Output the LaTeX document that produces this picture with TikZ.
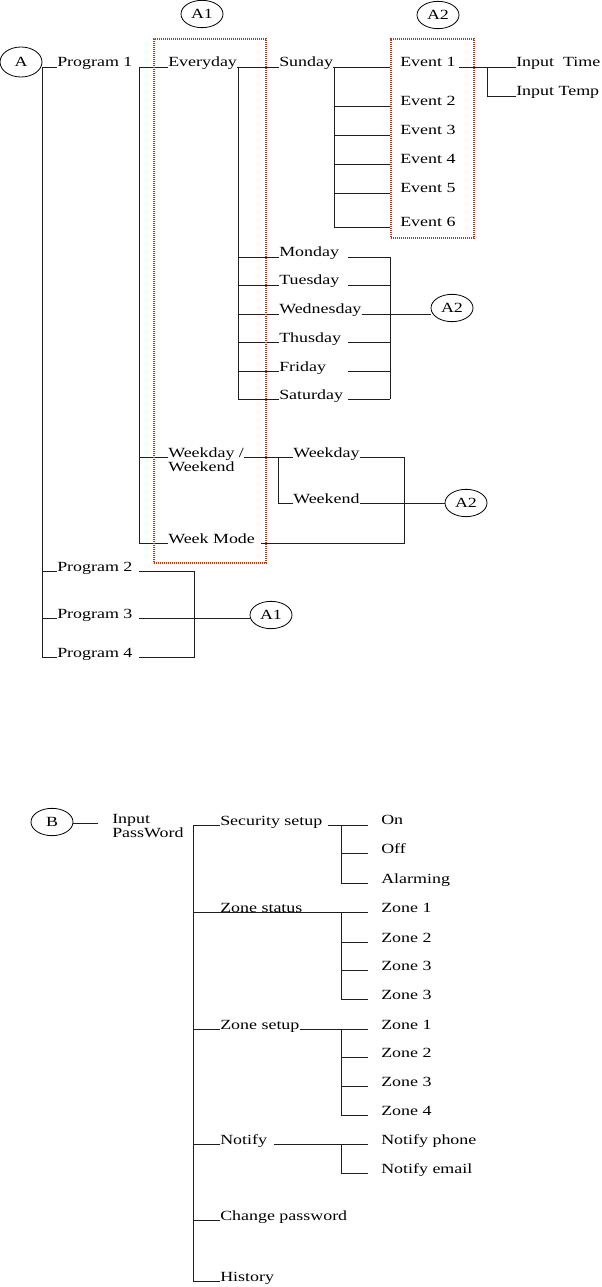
\documentclass[tikz,border=0pt]{standalone}
\usepackage{fontspec}
\setmainfont{Liberation Serif}[FakeStretch=1.28]
\usetikzlibrary{shapes.geometric,calc}
\definecolor{SelRed}{RGB}{176,62,20}
\definecolor{LinkGray}{RGB}{30,30,30}
\newcommand{\twoline}[2]{\vtop{\baselineskip=10.5pt\hbox{#1}\hbox{#2}}}
\tikzset{
  lbl/.style={inner sep=0pt, anchor=base west, font=\fontsize{10.5}{12}\selectfont},
  tag/.style={ellipse, draw, line width=0.6pt, inner sep=0pt,
              minimum width=31.5pt, minimum height=20.5pt,
              font=\fontsize{10.5}{12}\selectfont},
  selbox/.style={draw=SelRed, dash pattern=on 0.9pt off 0.6pt, line width=1.2pt,
                 anchor=north west, inner sep=0pt},
  link/.style={draw=LinkGray, line width=0.65pt},
}

\begin{document}
\begin{tikzpicture}[x=0.75pt, y=-0.75pt]
  \useasboundingbox (0,0) rectangle (602,1287);

  % --- menu A ---
  \node[tag, minimum height=22.5pt] (A) at (21,62) {A};
  \node[tag] (A1t) at (202,14) {A1};
  \node[tag] (A2t) at (438,15) {A2};
  \node[tag] (A2m) at (452,308) {A2};
  \node[tag] (A2l) at (466,503) {A2};
  \node[tag] (A1l) at (271,615) {A1};

  \node[lbl] (prog1) at (57,67) {Program 1};
  \node[lbl] (prog2) at (57,571) {Program 2};
  \node[lbl] (prog3) at (57,618) {Program 3};
  \node[lbl] (prog4) at (57,657) {Program 4};
  \node[lbl] (every) at (168,67) {Everyday};
  \node[lbl] (wwk) at (168,457) {\twoline{Weekday /}{Weekend}};
  \node[lbl] (wmode) at (168,543) {Week Mode};
  \node[lbl] (sun) at (279,67) {Sunday};
  \foreach \d/\y in {Monday/257,Tuesday/285,Wednesday/314,Thusday/342,Friday/371,Saturday/399}
    \node[lbl] (\d) at (279,\y) {\d};
  \node[lbl] (wkday) at (293,457) {Weekday};
  \node[lbl] (wkend) at (293,503) {Weekend};
  \foreach \n/\y in {1/67,2/106,3/135,4/164,5/193,6/227}
    \node[lbl] (ev\n) at (400,\y) {Event \n};
  \node[lbl] (intime) at (516,67) {Input\ \ Time};
  \node[lbl] (intemp) at (516,96) {Input Temp};

  \coordinate (busA) at (42,67);
  \coordinate (busP) at (139,67);
  \coordinate (busE) at (238,67);
  \coordinate (busS) at (334,67);
  \coordinate (busI) at (487,67);
  \coordinate (dayL) at (348,257);
  \coordinate (dayR) at (390,257);
  \coordinate (busW) at (278,457);
  \coordinate (busM) at (404,457);
  \coordinate (busQ) at (194,571);

  \draw[link] (busA) -- (prog1.base west);
  \draw[link] (busA) -- (busA |- prog4.base);
  \foreach \p in {prog2,prog3,prog4}
    \draw[link] (busA |- \p.base) -- (\p.base west);
  \draw[link] (busP) -- (every.base west);
  \draw[link] (busP) -- (busP |- wmode.base) -- (wmode.base west);
  \draw[link] (busP |- wwk.base) -- (wwk.base west);
  \draw[link] (every.base east) -- (sun.base west);
  \draw[link] (busE) -- (busE |- Saturday.base);
  \foreach \d in {Monday,Tuesday,Wednesday,Thusday,Friday,Saturday}
    \draw[link] (busE |- \d.base) -- (\d.base west);
  \foreach \d in {Monday,Tuesday,Thusday,Friday,Saturday}
    \draw[link] (dayL |- \d.base) -- (dayR |- \d.base);
  \draw[link] (dayR) -- (dayR |- Saturday.base);
  \draw[link] (Wednesday.base east) -- (A2m.west |- Wednesday.base);

  \draw[link] (sun.base east) -- (390,67);
  \draw[link] (busS) -- (busS |- ev6.base);
  \foreach \n in {2,...,6}
    \draw[link] (busS |- ev\n.base) -- (390,0 |- ev\n.base);
  \draw[link] ([xshift=2.25pt]ev1.base east) -- (intime.base west);
  \draw[link] (busI) -- (busI |- intemp.base) -- (intemp.base west);

  \draw[link] (wwk.base east) -- (wkday.base west);
  \draw[link] (busW) -- (busW |- wkend.base) -- (wkend.base west);
  \draw[link] (wkday.base east) -- (busM) -- (busM |- wmode.base)
    -- ([xshift=4.5pt]wmode.base east);
  \draw[link] (wkend.base east) -- (A2l.west |- wkend.base);

  \draw[link] (busP |- prog2.base) -- (busQ) -- (busQ |- prog4.base)
    -- (busP |- prog4.base);
  \draw[link] (busP |- prog3.base) -- (A1l.west |- prog3.base);

  % dotted selections
  \node[selbox, minimum width=84pt, minimum height=393pt] (boxA1) at (153,38) {};
  \node[selbox, minimum width=62.25pt, minimum height=149.25pt] (boxA2) at (390,38) {};

  % --- menu B ---
  \node[tag] (B) at (52,822) {B};
  \node[lbl] (inpw) at (112,823) {\twoline{Input}{PassWord}};
  \node[lbl] (secset) at (220,825) {Security setup};
  \node[lbl] (zstat) at (220,912) {Zone status};
  \node[lbl] (zset) at (220,1029) {Zone setup};
  \node[lbl] (notify) at (220,1144) {Notify};
  \node[lbl] (chpw) at (220,1220) {Change password};
  \node[lbl] (hist) at (220,1281) {History};
  \node[lbl] (on) at (381,824) {On};
  \node[lbl] (off) at (381,853) {Off};
  \node[lbl] (alarm) at (381,883) {Alarming};
  \foreach \n/\t/\y in {1/Zone 1/912,2/Zone 2/942,3/Zone 3/970,4/Zone 3/999}
    \node[lbl] (zs\n) at (381,\y) {\t};
  \foreach \n/\y in {1/1029,2/1057,3/1086,4/1115}
    \node[lbl] (zc\n) at (381,\y) {Zone \n};
  \node[lbl] (nphone) at (381,1144) {Notify phone};
  \node[lbl] (nmail) at (381,1173) {Notify email};

  \coordinate (busB) at (193,825);
  \coordinate (subB) at (341,825);
  \coordinate (endB) at (368,825);

  \draw[link] (B.east |- inpw.base) -- ([xshift=-10.5pt]inpw.base west);
  \draw[link] (busB) -- (busB |- hist.base);
  \foreach \t in {secset,zset,notify,chpw,hist}
    \draw[link] (busB |- \t.base) -- (\t.base west);
  \draw[link] (busB |- zstat.base) -- (endB |- zstat.base);
  \draw[link] ([xshift=3.75pt]secset.base east) -- (endB);
  \draw[link] (zset.base east) -- (endB |- zset.base);
  \draw[link] ([xshift=5.25pt]notify.base east) -- (endB |- notify.base);

  \draw[link] (subB) -- (subB |- alarm.base);
  \foreach \t in {off,alarm}
    \draw[link] (subB |- \t.base) -- (endB |- \t.base);
  \draw[link] (subB |- zs1.base) -- (subB |- zs4.base);
  \foreach \n in {2,3,4}
    \draw[link] (subB |- zs\n.base) -- (endB |- zs\n.base);
  \draw[link] (subB |- zc1.base) -- (subB |- zc4.base);
  \foreach \n in {2,3,4}
    \draw[link] (subB |- zc\n.base) -- (endB |- zc\n.base);
  \draw[link] (subB |- nphone.base) -- (subB |- nmail.base)
    -- (endB |- nmail.base);
\end{tikzpicture}
\end{document}
